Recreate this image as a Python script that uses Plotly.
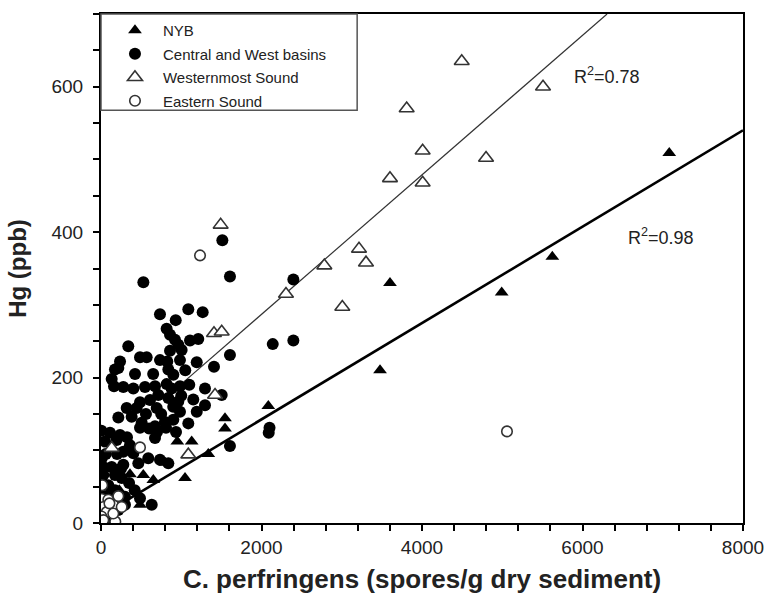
import plotly.graph_objects as go

# ---------------- data ----------------
nyb_x = [7081, 5624, 4993, 3601, 3477, 1545, 1545, 2085, 1337, 1047, 951, 1130,
         361, 527, 652, 800, 228, 486]
nyb_y = [509, 366, 317, 330, 210, 144, 130, 161, 95, 62, 112, 112,
         67, 66, 59, 83, 45, 25]

cw_x = [528, 1512, 1607, 2397, 2140, 2397, 2100, 2090, 1607,
        1088, 1267, 735, 931, 818, 860, 922, 1109, 1212, 340, 963, 1005, 860,
        486, 569, 735, 826, 984, 1193, 237, 1607, 1408, 216, 174, 424, 839, 901,
        133, 162, 278, 403, 548, 673, 818, 984, 1100, 1296, 1504, 714, 839, 611,
        486, 320, 445, 694, 963, 984, 1296, 1193, 216, 382, 507, 797, 901, 1088,
        673, 5, 112, 237, 324, 486, 698, 673, 810, 935,
        50, 195, 361, 278, 403, 589, 735, 839, 8, 29, 133, 278, 465, 29, 174,
        258, 91, 5, 112, 174, 299, 486, 632, 299, 216, 112,
        600, 900, 1000, 750, 560, 1150, 650, 1050, 880, 60, 200, 350, 420, 250]
cw_y = [331, 389, 339, 335, 246, 251, 131, 124, 106,
        294, 290, 287, 279, 267, 259, 252, 251, 253, 243, 245, 238, 237,
        228, 228, 224, 222, 224, 221, 222, 231, 215, 213, 211, 205, 211, 204,
        198, 188, 187, 185, 187, 188, 191, 188, 190, 185, 176, 176, 172, 169,
        166, 158, 158, 158, 167, 153, 162, 153, 145, 146, 138, 139, 142, 137,
        133, 127, 124, 121, 118, 131, 125, 117, 131, 125,
        112, 114, 107, 98, 96, 89, 87, 82, 89, 77, 77, 80, 82, 66, 66,
        62, 52, 39, 39, 45, 36, 34, 25, 25, 18, 6,
        130, 160, 175, 150, 150, 170, 205, 210, 185, 95, 95, 55, 45, 75]

ws_x = [4495, 5508, 3809, 4008, 4798, 3601, 4008, 3215, 3302, 2783, 2305, 3007,
        1491, 1408, 1504, 1421, 1088, 133]
ws_y = [635, 600, 570, 512, 502, 474, 468, 377, 358, 354, 315, 297,
        410, 261, 263, 176, 94, 103]

es_x = [1234, 5059, 486, 15, 8, 91, 29, 153, 71, 5, 29, 178, 258, 153, 216, 105]
es_y = [368, 126, 104, 52, 33, 32, 22, 25, 15, 9, 4, 2, 22, 13, 37, 27]

# regression lines (end points)
nyb_fit_x = [0, 8000]
nyb_fit_y = [10, 540]
ws_fit_x = [1000, 6306]
ws_fit_y = [191, 700]

labels = ["NYB", "Central and West basins", "Westernmost Sound", "Eastern Sound"]
r2_text = ["R<sup>2</sup>=0.78", "R<sup>2</sup>=0.98"]
r2_x = [6305, 6978]
r2_y = [615, 394]

FONT = "Liberation Sans, Arial, sans-serif"

fig = go.Figure()
fig.add_trace(go.Scatter(x=ws_fit_x, y=ws_fit_y, mode="lines",
                         line=dict(color="#333333", width=1.2), showlegend=False, hoverinfo="skip"))
fig.add_trace(go.Scatter(x=nyb_fit_x, y=nyb_fit_y, mode="lines",
                         line=dict(color="black", width=2.6), showlegend=False, hoverinfo="skip"))

fig.add_trace(go.Scatter(x=cw_x, y=cw_y, mode="markers", name=labels[1], legendrank=2,
                         legendgroup="b",
                         marker=dict(symbol="circle", size=12, color="black",
                                     line=dict(width=0))))
fig.add_trace(go.Scatter(x=nyb_x, y=nyb_y, mode="markers", name=labels[0], legendrank=1,
                         legendgroup="a",
                         marker=dict(symbol="triangle-up", size=12, color="black",
                                     line=dict(width=0))))
fig.add_trace(go.Scatter(x=es_x, y=es_y, mode="markers", name=labels[3], legendrank=4,
                         legendgroup="d",
                         marker=dict(symbol="circle", size=10.5, color="white",
                                     line=dict(width=1.6, color="#333333"))))
fig.add_trace(go.Scatter(x=ws_x, y=ws_y, mode="markers", name=labels[2], legendrank=3,
                         legendgroup="c",
                         marker=dict(symbol="triangle-up", size=13, color="white",
                                     line=dict(width=1.6, color="#333333"))))

for t, xx, yy in zip(r2_text, r2_x, r2_y):
    fig.add_annotation(x=xx, y=yy, text=t, showarrow=False,
                       font=dict(family=FONT, size=18, color="#222222"))

# legend box
fig.add_shape(type="rect", xref="paper", yref="paper", x0=0, x1=0.399, y0=0.811, y1=1,
              line=dict(color="#555555", width=1.5), fillcolor="rgba(0,0,0,0)")

axis_common = dict(showgrid=False, zeroline=False, showline=True, mirror=True,
                   linecolor="black", linewidth=2, ticks="outside", ticklen=6,
                   tickwidth=2, tickcolor="black",
                   tickfont=dict(family=FONT, size=19, color="#222222"))

fig.update_xaxes(range=[0, 8000], dtick=2000, tick0=0,
                 minor=dict(dtick=400, ticks="outside", ticklen=6, tickwidth=2, tickcolor="black"),
                 title=dict(text="C. perfringens (spores/g dry sediment)", standoff=13,
                            font=dict(family=FONT, size=26, color="#222222", weight="bold")),
                 **axis_common)
fig.update_yaxes(range=[0, 700], dtick=200, tick0=0,
                 minor=dict(dtick=50, ticks="outside", ticklen=6, tickwidth=2, tickcolor="black"),
                 ticklabelstandoff=6,
                 title=dict(text="Hg (ppb)", standoff=18,
                            font=dict(family=FONT, size=24, color="#222222", weight="bold")),
                 **axis_common)

fig.update_layout(
    width=767, height=600,
    margin=dict(l=101, r=24, t=14, b=77, autoexpand=False),
    plot_bgcolor="white", paper_bgcolor="white",
    showlegend=True,
    legend=dict(x=0.0093, y=1.0, xanchor="left", yanchor="top", bgcolor="rgba(0,0,0,0)",
                borderwidth=0, tracegroupgap=1, traceorder="grouped", itemwidth=46,
                font=dict(family=FONT, size=15, color="#222222")),
)

fig.write_html("out.html")
